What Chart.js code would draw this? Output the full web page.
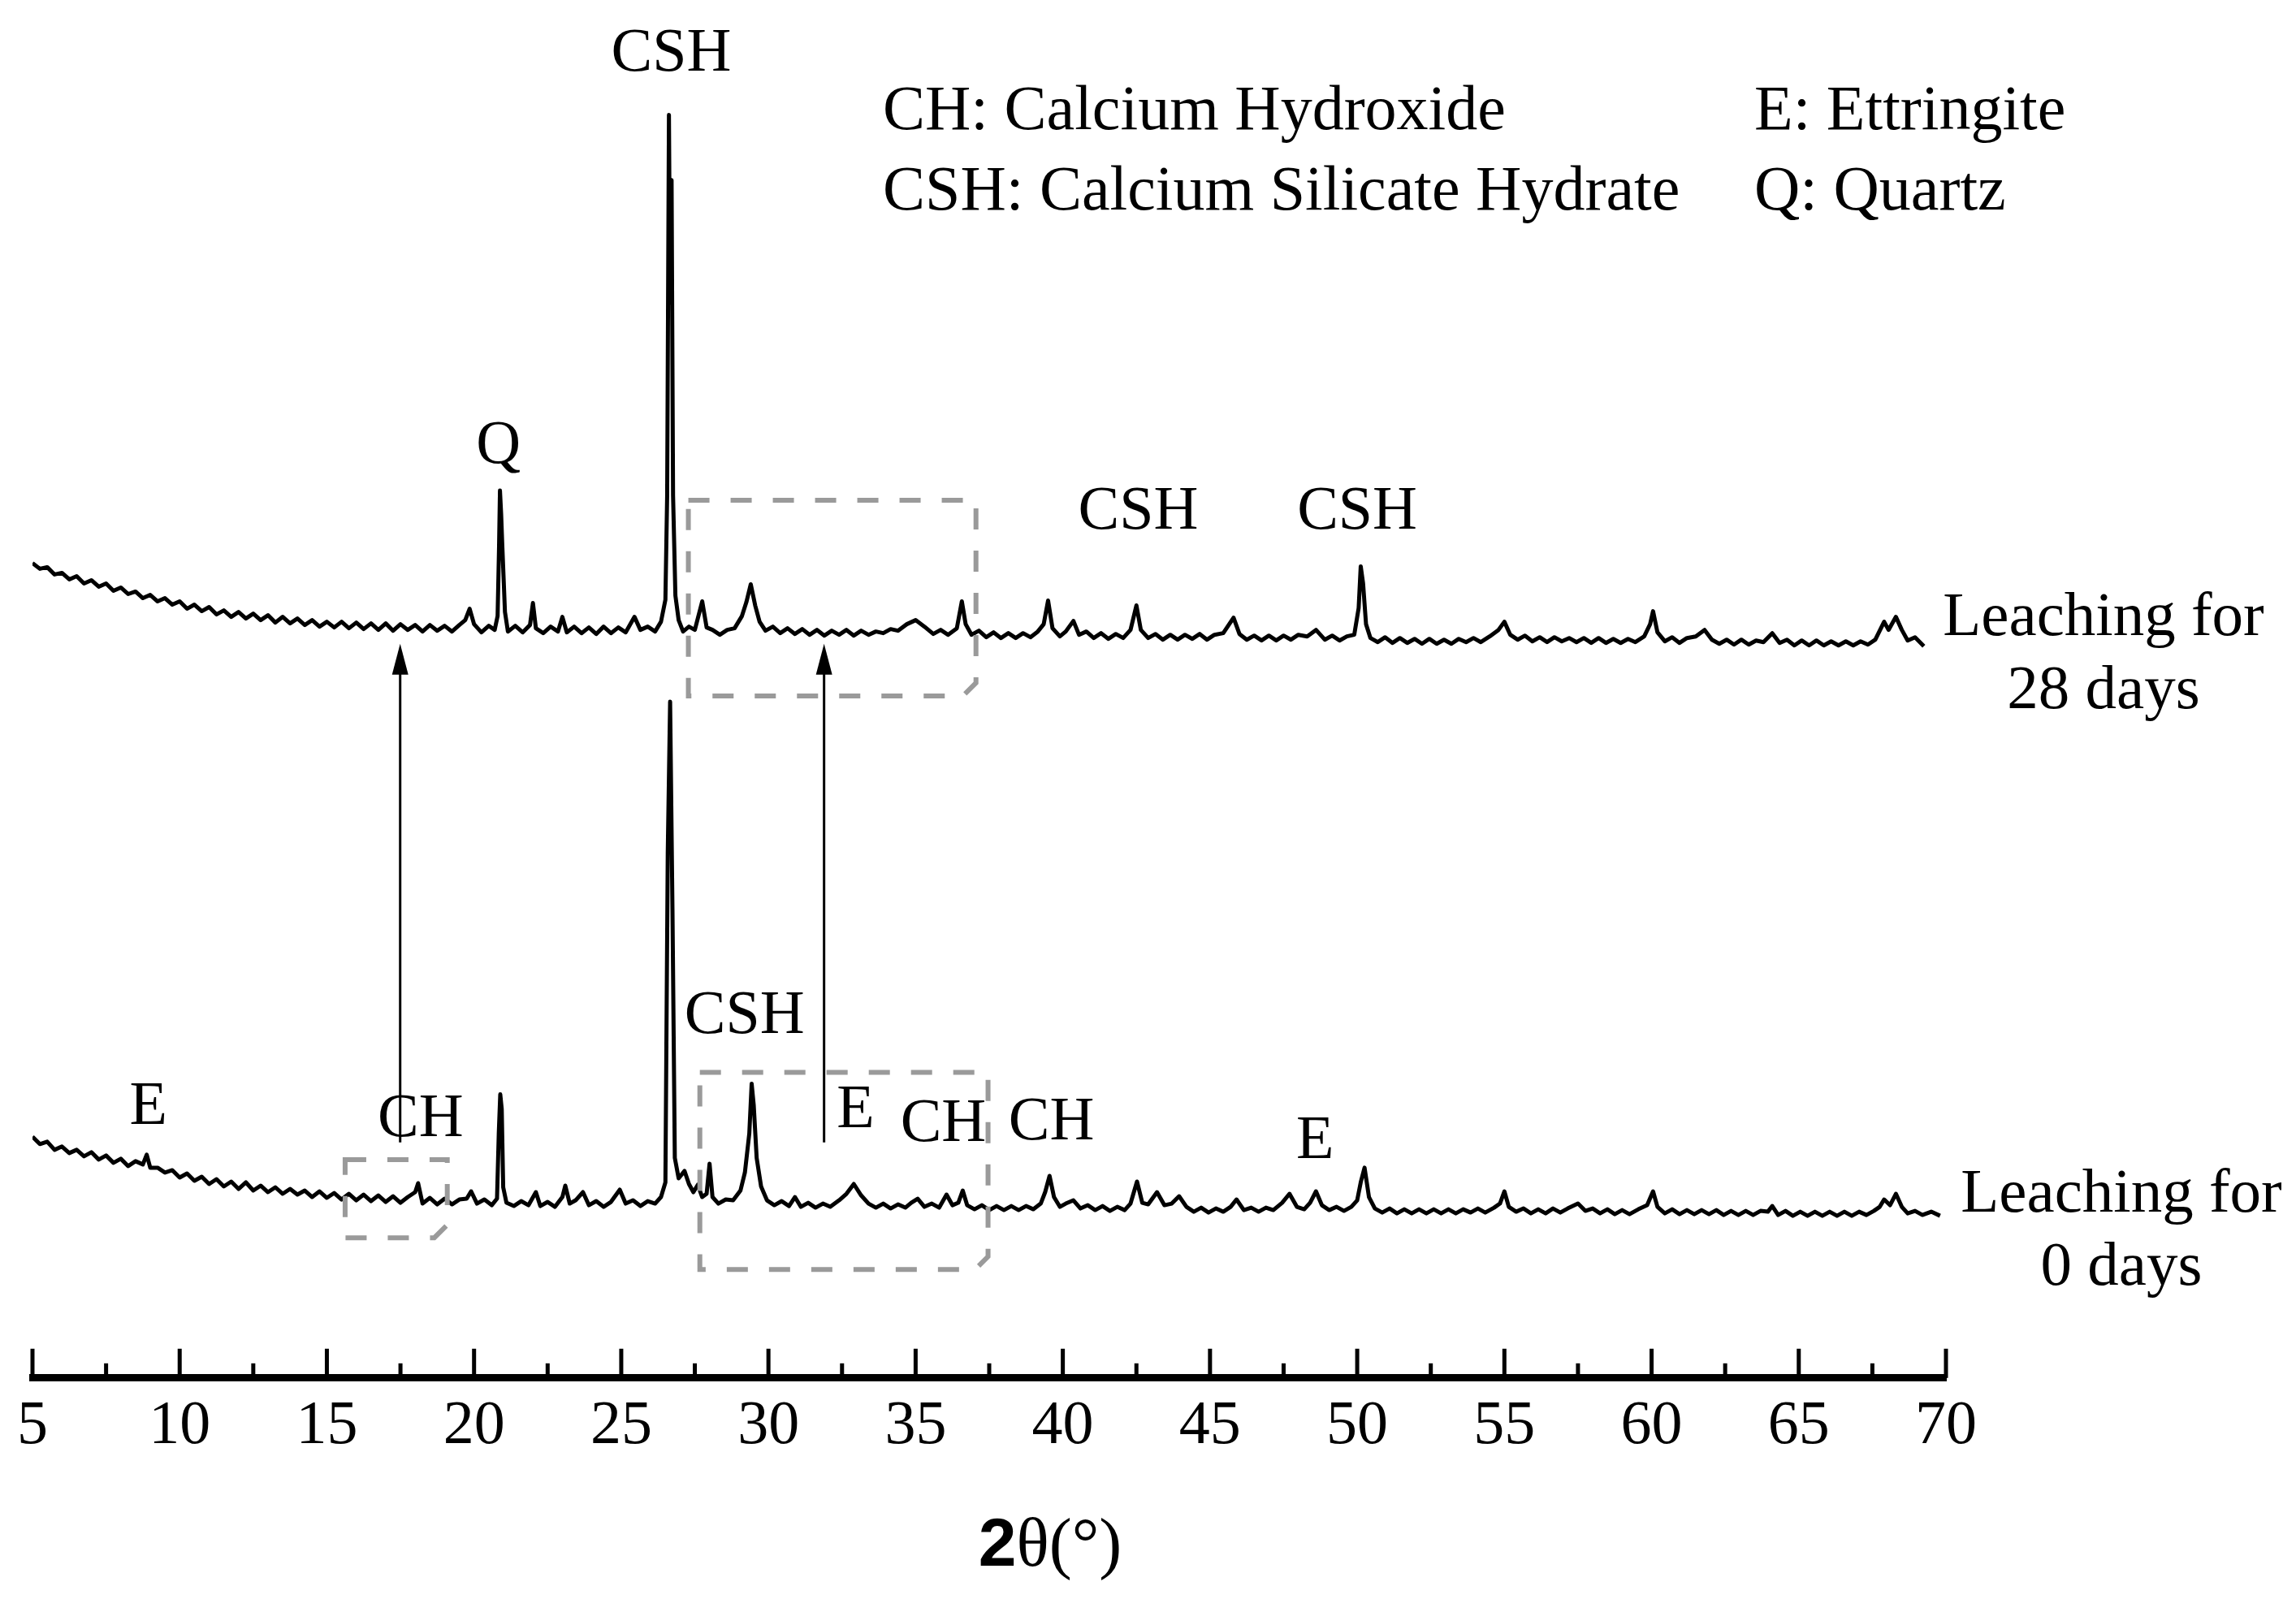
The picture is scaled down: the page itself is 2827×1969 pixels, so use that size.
<!DOCTYPE html>
<html>
<head>
<meta charset="utf-8">
<title>XRD - leaching</title>
<script src="https://cdn.jsdelivr.net/npm/chart.js@4.4.1/dist/chart.umd.min.js"></script>
<style>
  html, body { margin: 0; padding: 0; background: #fff; }
  #xrd { display: block; }
</style>
</head>
<body>
<canvas id="xrd" width="2827" height="1969"></canvas>
<script>
// Pattern after 28 days of leaching (2θ in degrees, intensity in a.u., stacked)
const angle28 = [
  5.00, 5.25, 5.50, 5.75, 6.00, 6.25, 6.50, 6.75, 7.00, 7.25, 7.50, 7.75, 8.00, 8.25, 8.50, 8.75,
  9.00, 9.25, 9.50, 9.75, 10.00, 10.25, 10.50, 10.75, 11.00, 11.25, 11.50, 11.75, 12.00, 12.25, 12.50, 12.75,
  13.00, 13.25, 13.50, 13.75, 14.00, 14.25, 14.50, 14.75, 15.00, 15.25, 15.50, 15.75, 16.00, 16.25, 16.50, 16.75,
  17.00, 17.25, 17.50, 17.75, 18.00, 18.25, 18.50, 18.75, 19.00, 19.25, 19.50, 19.70, 19.85, 20.00, 20.25, 20.50,
  20.70, 20.80, 20.85, 20.88, 20.92, 20.96, 21.05, 21.15, 21.40, 21.65, 21.90, 22.00, 22.10, 22.35, 22.60, 22.85,
  23.00, 23.15, 23.40, 23.65, 23.90, 24.15, 24.40, 24.65, 24.90, 25.15, 25.45, 25.65, 25.90, 26.15, 26.35, 26.50,
  26.56, 26.62, 26.66, 26.71, 26.76, 26.84, 26.95, 27.10, 27.30, 27.50, 27.75, 27.90, 28.10, 28.35, 28.60, 28.85,
  29.10, 29.25, 29.40, 29.55, 29.70, 29.90, 30.15, 30.40, 30.65, 30.90, 31.15, 31.40, 31.65, 31.90, 32.15, 32.40,
  32.65, 32.90, 33.15, 33.40, 33.65, 33.90, 34.15, 34.40, 34.70, 35.00, 35.30, 35.60, 35.85, 36.10, 36.40, 36.57,
  36.70, 36.90, 37.15, 37.40, 37.65, 37.90, 38.15, 38.40, 38.65, 38.90, 39.15, 39.35, 39.50, 39.65, 39.90, 40.10,
  40.36, 40.55, 40.80, 41.05, 41.30, 41.55, 41.80, 42.05, 42.30, 42.50, 42.65, 42.90, 43.15, 43.40, 43.65, 43.90,
  44.15, 44.40, 44.65, 44.90, 45.15, 45.45, 45.80, 46.00, 46.25, 46.50, 46.75, 47.00, 47.25, 47.50, 47.75, 48.00,
  48.30, 48.60, 48.90, 49.15, 49.40, 49.65, 49.90, 50.05, 50.12, 50.20, 50.30, 50.45, 50.70, 50.95, 51.20, 51.45,
  51.70, 51.95, 52.20, 52.45, 52.70, 52.95, 53.20, 53.45, 53.70, 53.95, 54.20, 54.50, 54.80, 55.00, 55.20, 55.45,
  55.70, 55.95, 56.20, 56.45, 56.70, 56.95, 57.20, 57.45, 57.70, 57.95, 58.20, 58.45, 58.70, 58.95, 59.20, 59.45,
  59.75, 59.95, 60.05, 60.20, 60.45, 60.70, 60.95, 61.20, 61.50, 61.80, 62.05, 62.30, 62.55, 62.80, 63.05, 63.30,
  63.55, 63.80, 64.10, 64.35, 64.60, 64.85, 65.10, 65.35, 65.60, 65.85, 66.10, 66.35, 66.60, 66.85, 67.10, 67.35,
  67.60, 67.90, 68.05, 68.30, 68.50, 68.70, 68.95, 69.25
];
const int28 = [
  1000, 993, 995, 986, 988, 980, 984, 975, 979, 971, 975, 966, 970, 962, 965, 957,
  961, 953, 957, 949, 953, 944, 949, 941, 946, 937, 942, 934, 940, 932, 938, 930,
  936, 927, 934, 926, 932, 924, 930, 922, 928, 921, 928, 920, 927, 919, 926, 918,
  926, 917, 925, 918, 924, 916, 924, 917, 923, 916, 924, 930, 944, 925, 915, 923,
  918, 935, 1021, 1089, 1060, 1021, 940, 916, 923, 915, 924, 951, 920, 914, 922, 916,
  934, 915, 922, 914, 921, 913, 922, 914, 921, 915, 934, 918, 922, 916, 928, 955,
  1083, 1550, 1320, 1470, 1083, 960, 930, 916, 922, 918, 953, 921, 918, 912, 918, 920,
  935, 952, 974, 948, 928, 917, 922, 914, 920, 913, 919, 912, 918, 911, 917, 912,
  918, 911, 917, 912, 916, 914, 919, 917, 925, 930, 922, 913, 918, 912, 920, 953,
  925, 912, 917, 909, 915, 908, 914, 908, 914, 909, 916, 925, 954, 920, 910, 916,
  929, 912, 916, 908, 914, 907, 913, 908, 918, 948, 918, 908, 913, 906, 912, 906,
  912, 907, 913, 906, 912, 914, 933, 913, 906, 911, 905, 911, 905, 911, 906, 912,
  910, 918, 906, 911, 905, 910, 912, 945, 996, 975, 925, 908, 903, 909, 902, 908,
  902, 907, 901, 907, 901, 906, 901, 907, 903, 908, 903, 910, 918, 928, 912, 906,
  911, 904, 909, 903, 909, 904, 908, 903, 908, 902, 908, 902, 907, 902, 907, 903,
  910, 925, 941, 915, 904, 909, 902, 908, 910, 918, 906, 901, 906, 900, 906, 900,
  905, 903, 914, 902, 906, 899, 905, 899, 905, 899, 904, 899, 904, 899, 904, 900,
  906, 928, 918, 934, 918, 905, 909, 898
];

// Pattern before leaching (0 days)
const angle0 = [
  5.00, 5.25, 5.50, 5.75, 6.00, 6.25, 6.50, 6.75, 7.00, 7.25, 7.50, 7.75, 8.00, 8.25, 8.50, 8.75,
  8.88, 9.00, 9.25, 9.50, 9.75, 10.00, 10.25, 10.50, 10.75, 11.00, 11.25, 11.50, 11.75, 12.00, 12.25, 12.50,
  12.75, 13.00, 13.25, 13.50, 13.75, 14.00, 14.25, 14.50, 14.75, 15.00, 15.25, 15.50, 15.75, 16.00, 16.25, 16.50,
  16.75, 17.00, 17.25, 17.50, 17.75, 18.00, 18.10, 18.25, 18.50, 18.75, 19.00, 19.25, 19.50, 19.75, 19.90, 20.10,
  20.35, 20.60, 20.78, 20.84, 20.89, 20.94, 20.99, 21.10, 21.35, 21.60, 21.85, 22.10, 22.25, 22.50, 22.75, 23.00,
  23.10, 23.25, 23.45, 23.70, 23.90, 24.15, 24.40, 24.65, 24.95, 25.15, 25.40, 25.65, 25.90, 26.15, 26.35, 26.50,
  26.58, 26.66, 26.74, 26.82, 26.95, 27.15, 27.30, 27.45, 27.60, 27.75, 27.90, 28.00, 28.10, 28.30, 28.55, 28.80,
  29.05, 29.20, 29.35, 29.43, 29.50, 29.60, 29.75, 29.95, 30.20, 30.45, 30.70, 30.90, 31.10, 31.35, 31.60, 31.85,
  32.10, 32.40, 32.65, 32.90, 33.15, 33.40, 33.65, 33.90, 34.15, 34.40, 34.65, 34.85, 35.07, 35.30, 35.55, 35.80,
  36.05, 36.25, 36.45, 36.60, 36.75, 37.00, 37.25, 37.50, 37.75, 38.00, 38.25, 38.50, 38.75, 39.00, 39.25, 39.40,
  39.55, 39.70, 39.90, 40.10, 40.36, 40.60, 40.85, 41.10, 41.35, 41.60, 41.85, 42.10, 42.30, 42.52, 42.70, 42.90,
  43.20, 43.45, 43.70, 43.95, 44.20, 44.45, 44.70, 44.95, 45.20, 45.45, 45.70, 45.90, 46.15, 46.40, 46.65, 46.90,
  47.15, 47.45, 47.70, 47.95, 48.20, 48.40, 48.60, 48.80, 49.05, 49.30, 49.55, 49.80, 50.00, 50.12, 50.25, 50.40,
  50.60, 50.85, 51.10, 51.35, 51.60, 51.85, 52.10, 52.35, 52.60, 52.85, 53.10, 53.35, 53.60, 53.85, 54.10, 54.35,
  54.65, 54.85, 55.00, 55.15, 55.40, 55.65, 55.90, 56.15, 56.40, 56.65, 56.90, 57.15, 57.50, 57.75, 58.00, 58.25,
  58.50, 58.75, 59.00, 59.25, 59.55, 59.85, 60.05, 60.20, 60.45, 60.70, 60.95, 61.20, 61.45, 61.70, 61.95, 62.20,
  62.45, 62.70, 62.95, 63.20, 63.45, 63.70, 63.95, 64.10, 64.30, 64.55, 64.80, 65.05, 65.30, 65.55, 65.80, 66.05,
  66.30, 66.55, 66.80, 67.05, 67.30, 67.55, 67.75, 67.90, 68.10, 68.30, 68.50, 68.70, 68.95, 69.20, 69.50, 69.80
];
const int0 = [
  296, 287, 290, 280, 284, 276, 280, 272, 277, 268, 273, 264, 269, 260, 266, 262,
  274, 258, 258, 252, 255, 246, 251, 242, 247, 238, 244, 235, 241, 232, 240, 230,
  236, 228, 234, 226, 232, 225, 230, 222, 229, 221, 227, 219, 226, 218, 225, 217,
  224, 216, 223, 215, 222, 228, 239, 214, 221, 213, 220, 213, 219, 220, 229, 214,
  219, 212, 220, 300, 348, 330, 234, 215, 211, 217, 212, 228, 211, 216, 210, 222,
  236, 214, 218, 228, 212, 217, 210, 216, 231, 214, 218, 211, 217, 214, 222, 240,
  644, 830, 575, 270, 245, 254, 238, 228, 237, 222, 226, 263, 222, 214, 219, 218,
  230, 252, 300, 361, 335, 270, 235, 218, 212, 217, 211, 222, 210, 215, 209, 214,
  210, 218, 226, 238, 224, 214, 209, 214, 208, 213, 209, 215, 220, 210, 214, 209,
  225, 212, 215, 230, 212, 207, 212, 206, 211, 206, 211, 206, 211, 207, 214, 228,
  248, 222, 210, 214, 218, 208, 212, 206, 211, 205, 210, 206, 214, 241, 215, 213,
  228, 212, 214, 223, 210, 204, 209, 203, 208, 204, 210, 219, 206, 209, 204, 209,
  206, 215, 226, 210, 207, 215, 229, 212, 206, 210, 205, 210, 218, 240, 258, 222,
  208, 203, 208, 202, 207, 202, 207, 202, 207, 202, 207, 202, 207, 203, 208, 203,
  209, 214, 229, 210, 204, 208, 202, 207, 202, 208, 203, 208, 214, 205, 208, 202,
  207, 201, 206, 201, 207, 212, 229, 210, 202, 207, 201, 206, 201, 206, 201, 206,
  200, 205, 200, 205, 200, 205, 204, 211, 200, 205, 199, 204, 199, 204, 199, 204,
  199, 204, 199, 204, 200, 205, 210, 219, 212, 226, 210, 202, 205, 200, 204, 199
];

const seriesNames = ['Leaching for 28 days', 'Leaching for 0 days'];
const majorTicks = [5, 10, 15, 20, 25, 30, 35, 40, 45, 50, 55, 60, 65, 70];
const legendLines = ['CH: Calcium Hydroxide', 'CSH: Calcium Silicate Hydrate', 'E: Ettringite', 'Q: Quartz'];

// Peak labels, placed in data space (2θ, a.u.)
const peakLabels = [
  { text: 'CSH', x: 26.70, y: 1604 },
  { text: 'Q', x: 20.83, y: 1123 },
  { text: 'CSH', x: 42.56, y: 1042 },
  { text: 'CSH', x: 50.00, y: 1042 },
  { text: 'E', x: 8.94, y: 312 },
  { text: 'CH', x: 18.18, y: 297 },
  { text: 'CSH', x: 29.19, y: 423 },
  { text: 'E', x: 32.96, y: 308 },
  { text: 'CH', x: 35.94, y: 291 },
  { text: 'CH', x: 39.61, y: 293 },
  { text: 'E', x: 48.57, y: 270 }
];

// Dashed frames around the changed regions, and the arrows between patterns
const frames = [
  { x0: 27.28, x1: 37.05, y0: 837, y1: 1077 },
  { x0: 15.62, x1: 19.09, y0: 172, y1: 268 },
  { x0: 27.67, x1: 37.46, y0: 133, y1: 375 }
];
const arrows = [
  { x: 17.49, from: 289, to: 901 },
  { x: 31.89, from: 289, to: 901 }
];

const SERIF = '"Liberation Serif", "Times New Roman", serif';

function drawInwardTicks(ctx, x) {
    const base = x.top;
    ctx.strokeStyle = '#000';
    ctx.lineWidth = 5;
    x.ticks.forEach(t => {
        const px = x.getPixelForValue(t.value);
        const len = majorTicks.includes(t.value) ? 36 : 18;
        ctx.beginPath();
        ctx.moveTo(px, base);
        ctx.lineTo(px, base - len);
        ctx.stroke();
    });
}

function drawFrames(ctx, x, y) {
    ctx.strokeStyle = '#9a9a9a';
    ctx.lineWidth = 6;
    ctx.setLineDash([26, 26]);
    frames.forEach(f => {
        const l = x.getPixelForValue(f.x0), r = x.getPixelForValue(f.x1);
        const t = y.getPixelForValue(f.y1), b = y.getPixelForValue(f.y0);
        const c = 16; // cut corner bottom right
        ctx.beginPath();
        ctx.moveTo(l, t);
        ctx.lineTo(r, t);
        ctx.lineTo(r, b - c);
        ctx.lineTo(r - c, b);
        ctx.lineTo(l, b);
        ctx.closePath();
        ctx.stroke();
    });
    ctx.setLineDash([]);
}

function drawArrows(ctx, x, y) {
    ctx.strokeStyle = '#000';
    ctx.fillStyle = '#000';
    ctx.lineWidth = 3;
    arrows.forEach(a => {
        const px = x.getPixelForValue(a.x);
        const tail = y.getPixelForValue(a.from);
        const tip = y.getPixelForValue(a.to);
        ctx.beginPath();
        ctx.moveTo(px, tail);
        ctx.lineTo(px, tip + 30);
        ctx.stroke();
        ctx.beginPath();
        ctx.moveTo(px, tip);
        ctx.lineTo(px - 10, tip + 38);
        ctx.lineTo(px + 10, tip + 38);
        ctx.closePath();
        ctx.fill();
    });
}

function drawPeakLabels(ctx, x, y) {
    ctx.fillStyle = '#000';
    ctx.font = '76px ' + SERIF;
    ctx.textAlign = 'center';
    ctx.textBaseline = 'alphabetic';
    peakLabels.forEach(p => {
        ctx.fillText(p.text, x.getPixelForValue(p.x), y.getPixelForValue(p.y));
    });
}

function drawSeriesNames(ctx, x, y) {
    ctx.font = '77px ' + SERIF;
    ctx.textAlign = 'center';
    const spots = [
        { cx: x.right + 194, base: y.getPixelForValue(912) },
        { cx: x.right + 216, base: y.getPixelForValue(204) }
    ];
    seriesNames.forEach((name, i) => {
        const words = name.split(' ');
        const first = words.slice(0, 2).join(' ');
        const second = words.slice(2).join(' ');
        ctx.fillText(first, spots[i].cx, spots[i].base);
        ctx.fillText(second, spots[i].cx, spots[i].base + 90);
    });
}

function drawLegendText(ctx) {
    ctx.font = '78px ' + SERIF;
    ctx.textAlign = 'left';
    ctx.fillText(legendLines[0], 1087, 159);
    ctx.fillText(legendLines[1], 1087, 258);
    ctx.fillText(legendLines[2], 2160, 159);
    ctx.fillText(legendLines[3], 2160, 258);
}

function drawAxisTitle(ctx) {
    const bold = 'bold 84px "Liberation Sans", Arial, sans-serif';
    const thin = '84px ' + SERIF;
    ctx.font = bold;
    const w1 = ctx.measureText('2').width;
    ctx.font = thin;
    const w2 = ctx.measureText('θ(°)').width;
    const left = 1293 - (w1 + w2) / 2;
    ctx.textAlign = 'left';
    ctx.font = bold;
    ctx.fillText('2', left, 1928);
    ctx.font = thin;
    ctx.fillText('θ(°)', left + w1, 1928);
}

const decorPlugin = {
    id: 'decor',
    afterDraw(chart) {
        const { ctx } = chart;
        const { x, y } = chart.scales;
        ctx.save();
        drawInwardTicks(ctx, x);
        drawFrames(ctx, x, y);
        drawArrows(ctx, x, y);
        drawPeakLabels(ctx, x, y);
        drawSeriesNames(ctx, x, y);
        drawLegendText(ctx);
        drawAxisTitle(ctx);
        ctx.restore();
    }
};

function toPoints(xs, ys) {
    return xs.map((v, i) => ({ x: v, y: ys[i] }));
}

document.addEventListener('DOMContentLoaded', () => {
    new Chart(document.getElementById('xrd'), {
        type: 'line',
        data: {
            datasets: [
                {
                    label: seriesNames[0],
                    data: toPoints(angle28, int28),
                    borderColor: '#000',
                    borderWidth: 5,
                    borderJoinStyle: 'round',
                    pointRadius: 0,
                    tension: 0,
                    fill: false
                },
                {
                    label: seriesNames[1],
                    data: toPoints(angle0, int0),
                    borderColor: '#000',
                    borderWidth: 5,
                    borderJoinStyle: 'round',
                    pointRadius: 0,
                    tension: 0,
                    fill: false
                }
            ]
        },
        options: {
            responsive: false,
            animation: false,
            devicePixelRatio: 1,
            layout: { padding: { left: 40, right: 431, top: 0, bottom: 151 } },
            plugins: {
                legend: { display: false },
                tooltip: { enabled: false }
            },
            scales: {
                x: {
                    type: 'linear',
                    min: 5,
                    max: 70,
                    grid: { display: false, drawTicks: false },
                    border: { display: true, color: '#000', width: 9 },
                    ticks: {
                        stepSize: 2.5,
                        autoSkip: false,
                        maxRotation: 0,
                        padding: 15,
                        color: '#000',
                        font: { family: SERIF, size: 76 },
                        callback: v => majorTicks.includes(v) ? String(v) : ''
                    }
                },
                y: {
                    display: false,
                    min: 0,
                    max: 1691
                }
            }
        },
        plugins: [decorPlugin]
    });
});
</script>
</body>
</html>
